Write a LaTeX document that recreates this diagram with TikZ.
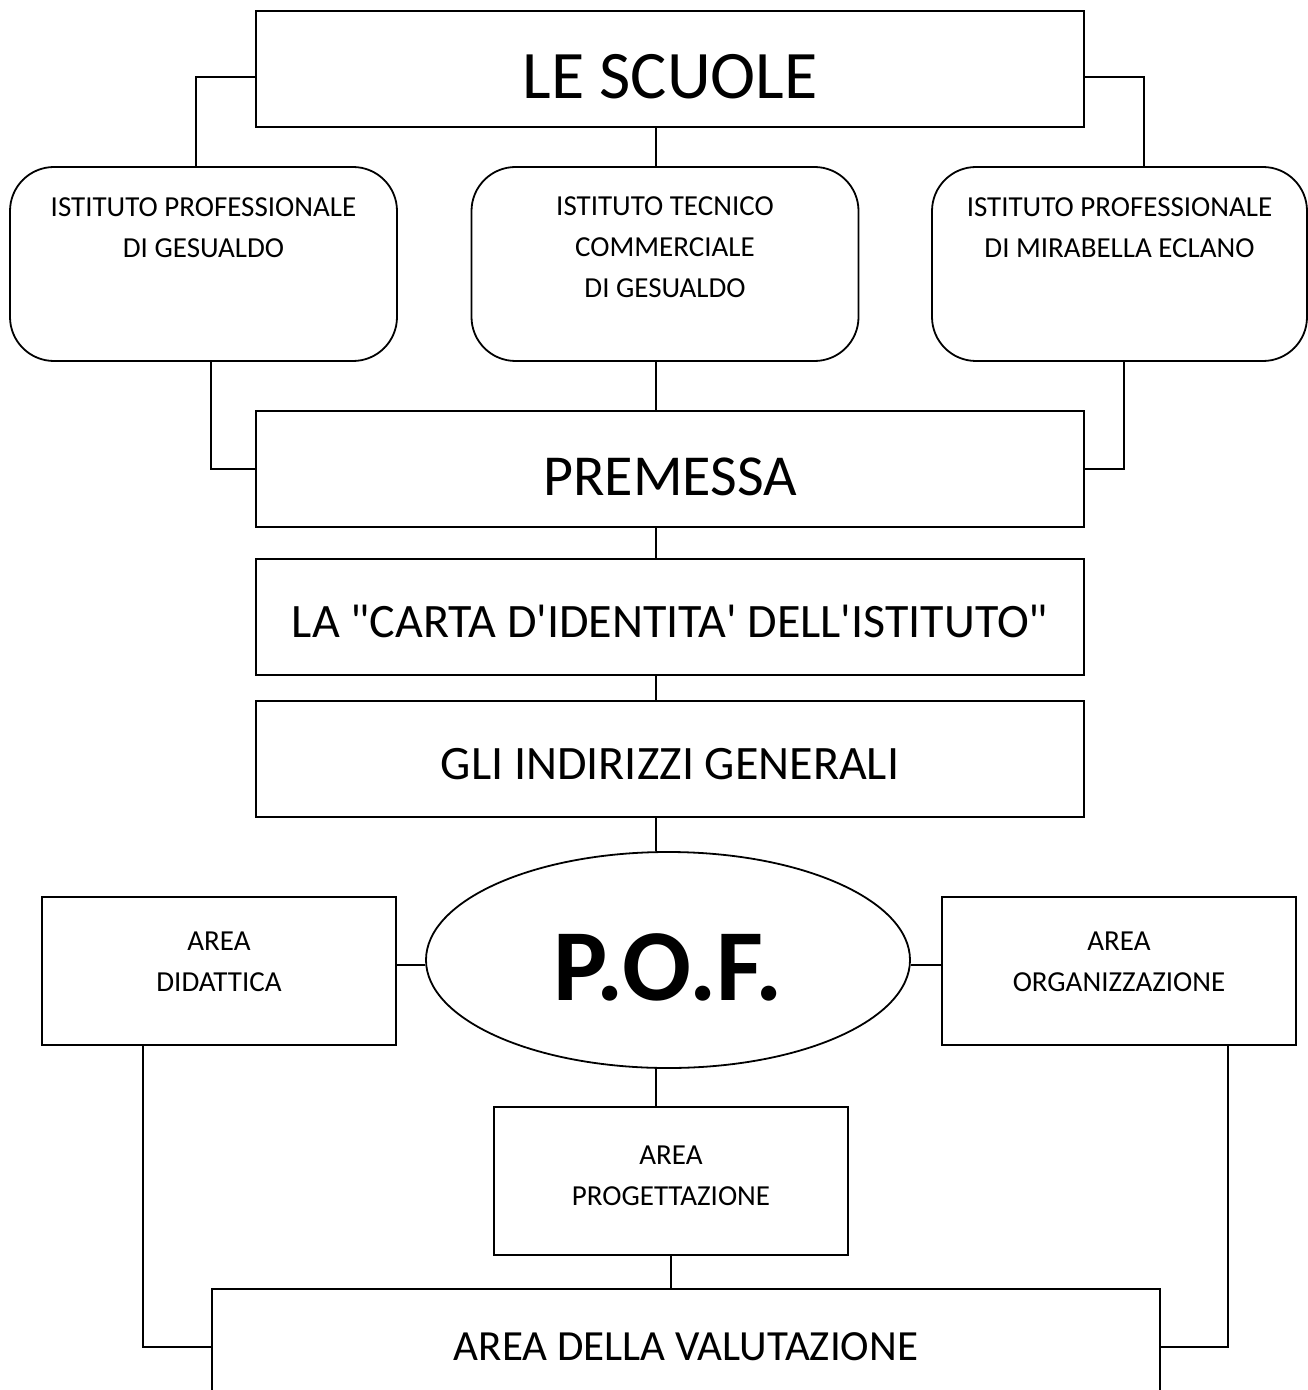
\documentclass[tikz,border=0pt]{standalone}
\usepackage{fontspec}
\newfontfamily\carlito{Carlito}
\usetikzlibrary{shapes.geometric}
\begin{document}
\begin{tikzpicture}[x=0.5pt,y=-0.5pt, every node/.style={font=\carlito},
  box/.style={draw,line width=0.9pt,inner sep=0pt},
  scuola/.style={box,rounded corners=22pt,minimum width=193.5pt,minimum height=97pt},
  area/.style={box,minimum width=177pt,minimum height=74pt},
  piccolo/.style={font=\carlito\fontsize{14.5}{20.5}\selectfont,align=center,inner sep=0pt},
  grande/.style={box,minimum width=414pt,minimum height=58pt,text depth=0pt,font=\carlito\fontsize{24}{28}\selectfont},
  link/.style={line width=0.8pt}]
\useasboundingbox (0,0) rectangle (1307,1390);
\node[grande,text height=30pt,font=\carlito\fontsize{34}{40}\selectfont] (scuole) at (670,69) {LE SCUOLE};
\node[scuola] (ipg) at (203.5,264) {};
\node[scuola] (itc) at (665,264) {};
\node[scuola,minimum width=187.5pt] (ipm) at (1119.5,264) {};
\node[piccolo] (ipgt) at ([yshift=18.25pt]ipg.center) {ISTITUTO PROFESSIONALE\\DI GESUALDO};
\node[piccolo] (itct) at ([yshift=8.25pt]itc.center) {ISTITUTO TECNICO\\COMMERCIALE\\DI GESUALDO};
\node[piccolo] (ipmt) at ([yshift=18.25pt]ipm.center) {ISTITUTO PROFESSIONALE\\DI MIRABELLA ECLANO};
\node[grande,text height=26pt,font=\carlito\fontsize{29}{34}\selectfont] (premessa) at (670,469) {PREMESSA};
\node[grande,text height=20.5pt] (carta) at (670,617) {LA "CARTA D'IDENTITA' DELL'ISTITUTO"};
\node[grande,text height=20pt] (indir) at (670,759) {GLI INDIRIZZI GENERALI};
\node[box,ellipse,minimum width=242pt,minimum height=108pt,text height=40pt,text depth=0pt,font=\carlito\bfseries\fontsize{51}{56}\selectfont] (pof) at (668,960) {P.O.F.};
\node[area] (did) at (219,971) {};
\node[piccolo] (didt) at ([yshift=4.75pt]did.center) {AREA\\DIDATTICA};
\node[area] (org) at (1119,971) {};
\node[piccolo] (orgt) at ([yshift=4.75pt]org.center) {AREA\\ORGANIZZAZIONE};
\node[area] (prog) at (671,1181) {};
\node[piccolo] (progt) at ([yshift=2.75pt]prog.center) {AREA\\PROGETTAZIONE};
\node[grande,minimum width=474pt,font=\carlito\fontsize{21.5}{26}\selectfont] (valut) at (686,1347) {AREA DELLA VALUTAZIONE};
\coordinate (asse) at (656,0);
\draw[link] ([yshift=-4pt]scuole.west) -| ([xshift=-3.75pt]ipg.north);
\draw[link] ([yshift=-4pt]scuole.east) -| ([xshift=12.25pt]ipm.north);
\draw[link] (scuole.south -| asse) -- (itc.north -| asse);
\draw[link] ([xshift=3.75pt]ipg.south) |- (premessa.west);
\draw[link] ([xshift=2.25pt]ipm.south) |- (premessa.east);
\draw[link] (itc.south -| asse) -- (premessa.north -| asse);
\draw[link] (premessa.south -| asse) -- (carta.north -| asse);
\draw[link] (carta.south -| asse) -- (indir.north -| asse);
\draw[link] (indir.south -| asse) -- (pof.north -| asse);
\draw[link] (pof.south -| asse) -- (prog.north -| asse);
\draw[link] ([yshift=-2.5pt]pof.west) -- ([yshift=-2.5pt]pof.west -| did.east);
\draw[link] ([yshift=-2.5pt]pof.east) -- ([yshift=-2.5pt]pof.east -| org.west);
\draw[link] (prog.south) -- (valut.north -| prog.south);
\draw[link] ([xshift=-38pt]did.south) |- (valut.west);
\draw[link] ([xshift=54.5pt]org.south) |- (valut.east);
\end{tikzpicture}
\end{document}
